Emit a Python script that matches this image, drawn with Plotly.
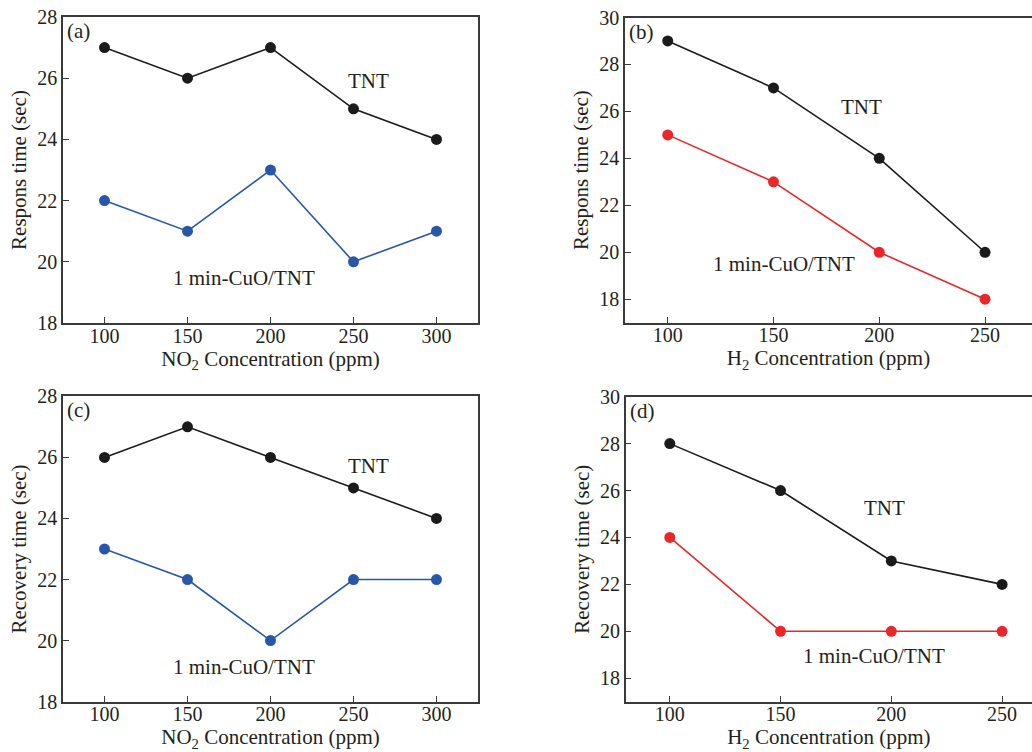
import plotly.graph_objects as go

# ---- data ----
no2_conc = [100, 150, 200, 250, 300]
h2_conc = [100, 150, 200, 250]

resp_no2_tnt = [27, 26, 27, 25, 24]
resp_no2_cuo = [22, 21, 23, 20, 21]
resp_h2_tnt = [29, 27, 24, 20]
resp_h2_cuo = [25, 23, 20, 18]
rec_no2_tnt = [26, 27, 26, 25, 24]
rec_no2_cuo = [23, 22, 20, 22, 22]
rec_h2_tnt = [28, 26, 23, 22]
rec_h2_cuo = [24, 20, 20, 20]

panel_labels = ["(a)", "(b)", "(c)", "(d)"]
series_names = ["TNT", "1 min-CuO/TNT"]

BLACK = "#1b1b1b"
BLUE = "#2757a8"
RED = "#ea2629"
AX = "#3a3a3a"
TXT = "#231f20"
FONT = "Liberation Serif"
FS = 21
FT = 20

W, H = 1032, 752

def dx(a, b):
    return [a / W, b / W]

def dy(top, bottom):
    return [1 - bottom / H, 1 - top / H]

fig = go.Figure()

panels = [
    ("x", "y", no2_conc, (resp_no2_tnt, resp_no2_cuo), (BLACK, BLUE), dx(63, 478), dy(17, 323), [75, 325], [18, 28],
     "Respons time (sec)", "NO<sub>2</sub> Concentration (ppm)", True, [18, 20, 22, 24, 26, 28],
     [(259, 25.9), (184.3, 19.47)]),
    ("x2", "y2", h2_conc, (resp_h2_tnt, resp_h2_cuo), (BLACK, RED), dx(625, 1032), dy(17.5, 322.7), [79.8, 272.2], [17, 30],
     "Respons time (sec)", "H<sub>2</sub> Concentration (ppm)", False, [18, 20, 22, 24, 26, 28, 30],
     [(191.8, 26.2), (155, 19.48)]),
    ("x3", "y3", no2_conc, (rec_no2_tnt, rec_no2_cuo), (BLACK, BLUE), dx(63, 478), dy(396.3, 701.7), [75, 325], [18, 28],
     "Recovery time (sec)", "NO<sub>2</sub> Concentration (ppm)", True, [18, 20, 22, 24, 26, 28],
     [(259.2, 25.72), (184, 19.15)]),
    ("x4", "y4", h2_conc, (rec_h2_tnt, rec_h2_cuo), (BLACK, RED), dx(625.7, 1032), dy(396.7, 701.7), [80.1, 263.5], [17, 30],
     "Recovery time (sec)", "H<sub>2</sub> Concentration (ppm)", False, [18, 20, 22, 24, 26, 28, 30],
     [(196.8, 25.25), (192.3, 18.94)]),
]

layout_axes = {}
annotations = []
for i, (xr, yr, xs, ys, cols, xdom, ydom, xrng, yrng, ytitle, xtitle, ymirror, yticks, ann) in enumerate(panels):
    for yv, c, nm in zip(ys, cols, series_names):
        fig.add_trace(go.Scatter(
            x=xs, y=yv, mode="lines+markers", name=nm, xaxis=xr, yaxis=yr,
            line=dict(color=c, width=1.6),
            marker=dict(color=c, size=11),
            showlegend=False, cliponaxis=False,
        ))
    xkey = "xaxis" + ("" if i == 0 else str(i + 1))
    ykey = "yaxis" + ("" if i == 0 else str(i + 1))
    layout_axes[xkey] = dict(
        domain=xdom, range=xrng, anchor=yr, tickvals=xs, automargin=False,
        showgrid=False, zeroline=False, showline=True, linecolor=AX, linewidth=1.5,
        mirror=True, ticks="inside", ticklen=6, tickwidth=1, tickcolor=AX,
        ticklabelstandoff=-6,
        tickfont=dict(family=FONT, size=FT, color=TXT),
        title=dict(text=xtitle, font=dict(family=FONT, size=FS, color=TXT), standoff=3),
    )
    layout_axes[ykey] = dict(
        domain=ydom, range=yrng, anchor=xr, tickvals=yticks, automargin=False,
        showgrid=False, zeroline=False, showline=True, linecolor=AX, linewidth=1.5,
        mirror=ymirror, ticks="inside", ticklen=6, tickwidth=1, tickcolor=AX,
        tickfont=dict(family=FONT, size=FT, color=TXT),
        title=dict(text=ytitle, font=dict(family=FONT, size=FS, color=TXT), standoff=5),
    )
    annotations.append(dict(
        text=panel_labels[i], xref=xr + " domain", yref=yr + " domain", x=0.006, y=1.0,
        xanchor="left", yanchor="top", showarrow=False,
        font=dict(family=FONT, size=FS, color=TXT),
    ))
    for (ax_, ay_), nm in zip(ann, series_names):
        annotations.append(dict(
            text=nm, xref=xr, yref=yr, x=ax_, y=ay_, showarrow=False,
            font=dict(family=FONT, size=FS, color=TXT),
        ))

fig.update_layout(
    width=W, height=H,
    margin=dict(l=0, r=0, t=0, b=0),
    paper_bgcolor="white", plot_bgcolor="white",
    annotations=annotations,
    **layout_axes,
)

fig.write_html("out.html")
